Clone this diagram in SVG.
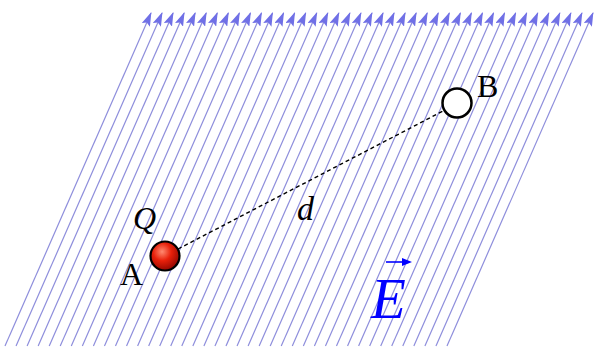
<svg xmlns="http://www.w3.org/2000/svg" width="599" height="349" viewBox="0 0 599 349">
<defs>
<style>
.fl{stroke:#8e8edc;stroke-width:1.2;fill:none}
.lbl{font-family:"Liberation Serif","Times New Roman",serif;fill:#000}
.it{font-style:italic}
</style>
<marker id="ah" viewBox="0 0 14 9" refX="13" refY="4.5" markerWidth="14" markerHeight="9" markerUnits="userSpaceOnUse" orient="auto">
<path d="M0,0 L14,4.5 L0,9 L2.5,4.5 Z" fill="#7070e6"/>
</marker>
<radialGradient id="rg" cx="0.4" cy="0.35" r="0.7">
<stop offset="0" stop-color="#ff8a70"/>
<stop offset="0.45" stop-color="#e8200a"/>
<stop offset="1" stop-color="#8a0500"/>
</radialGradient>
<line id="fline" x1="0" y1="346" x2="146" y2="13" class="fl" marker-end="url(#ah)"/>
</defs>
<rect width="599" height="349" fill="#fff"/>
<g id="field">
<use href="#fline" x="5"/><use href="#fline" x="16.05"/><use href="#fline" x="27.1"/><use href="#fline" x="38.15"/><use href="#fline" x="49.2"/>
<use href="#fline" x="60.25"/><use href="#fline" x="71.3"/><use href="#fline" x="82.35"/><use href="#fline" x="93.4"/><use href="#fline" x="104.45"/>
<use href="#fline" x="115.5"/><use href="#fline" x="126.55"/><use href="#fline" x="137.6"/><use href="#fline" x="148.65"/><use href="#fline" x="159.7"/>
<use href="#fline" x="170.75"/><use href="#fline" x="181.8"/><use href="#fline" x="192.85"/><use href="#fline" x="203.9"/><use href="#fline" x="214.95"/>
<use href="#fline" x="226"/><use href="#fline" x="237.05"/><use href="#fline" x="248.1"/><use href="#fline" x="259.15"/><use href="#fline" x="270.2"/>
<use href="#fline" x="281.25"/><use href="#fline" x="292.3"/><use href="#fline" x="303.35"/><use href="#fline" x="314.4"/><use href="#fline" x="325.45"/>
<use href="#fline" x="336.5"/><use href="#fline" x="347.55"/><use href="#fline" x="358.6"/><use href="#fline" x="369.65"/><use href="#fline" x="380.7"/>
<use href="#fline" x="391.75"/><use href="#fline" x="402.8"/><use href="#fline" x="413.85"/><use href="#fline" x="424.9"/><use href="#fline" x="435.95"/>
<use href="#fline" x="447"/>
</g>
<g id="connectors">
<line x1="178" y1="249" x2="445" y2="110" stroke="#000" stroke-width="1.4" stroke-dasharray="4,3"/>
</g>
<g id="nodeA">
<circle cx="165" cy="256" r="14.5" fill="url(#rg)" stroke="#000" stroke-width="2.2"/>
<text class="lbl" x="120" y="285" font-size="32">A</text>
<text class="lbl it" x="133" y="229" font-size="32">Q</text>
</g>
<g id="nodeB">
<circle cx="457" cy="103" r="14.5" fill="#fff" stroke="#000" stroke-width="2.5"/>
<text class="lbl" x="477" y="97" font-size="32">B</text>
</g>
<g id="labelD">
<text class="lbl it" x="297" y="220" font-size="34">d</text>
</g>
<g id="labelE">
<text class="lbl it" x="371" y="318" font-size="57" fill="#0000ff" style="fill:#0000ff">E</text>
<line x1="386" y1="262" x2="406" y2="262" stroke="#0000ff" stroke-width="1.6"/>
<path d="M402,258 L412,262 L402,266 Z" fill="#0000ff"/>
</g>
</svg>
